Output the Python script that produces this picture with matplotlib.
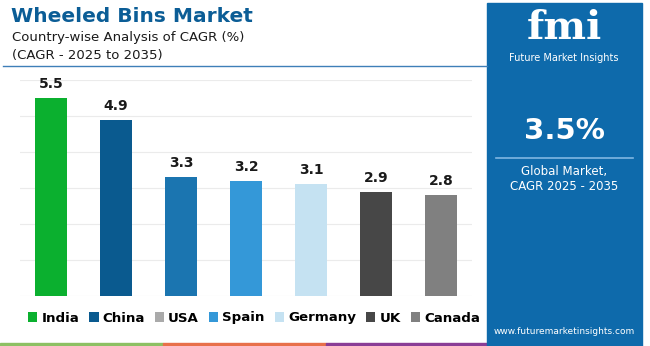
import matplotlib
matplotlib.use("Agg")
import matplotlib.pyplot as plt
from matplotlib.patches import Rectangle, Patch

countries = ["India", "China", "USA", "Spain", "Germany", "UK", "Canada"]
cagr = [5.5, 4.9, 3.3, 3.2, 3.1, 2.9, 2.8]
bar_colors = ["#0bb02f", "#0a5a8f", "#1b75b0", "#3498d8", "#c5e2f2", "#474747", "#808080"]
legend_colors = ["#0bb02f", "#0a5a8f", "#aaaaaa", "#3498d8", "#c5e2f2", "#474747", "#808080"]
global_cagr = "3.5%"

W, H = 650, 346
fig = plt.figure(figsize=(W / 100, H / 100), dpi=100)
fig.patch.set_facecolor("white")

def px(x, y):
    return x / W, 1 - y / H

# chart area
ax = fig.add_axes([20 / W, 50 / H, 452 / W, 216 / H])
x = list(range(len(countries)))
bars = ax.bar(x, cagr, width=0.5, color=bar_colors, zorder=3)
ax.set_xlim(-0.48, 6.48)
ax.set_ylim(0, 6)
ax.set_yticks(range(0, 7))
ax.grid(axis="y", color="#ebebeb", linewidth=0.8, zorder=0)
ax.tick_params(left=False, bottom=False, labelleft=False, labelbottom=False)
for s in ax.spines.values():
    s.set_visible(False)
for b, v in zip(bars, cagr):
    ax.annotate(f"{v}", (b.get_x() + b.get_width() / 2, v), xytext=(0, 5),
                textcoords="offset points", ha="center", va="bottom",
                fontsize=10, fontweight="bold", color="#1a1a1a", annotation_clip=False)

# titles
fig.text(*px(11, 17), "Wheeled Bins Market", fontsize=14.5, fontweight="heavy",
         color="#0b5d96", va="center", ha="left")
fig.text(*px(12, 37), "Country-wise Analysis of CAGR (%)", fontsize=9.5,
         color="#1a1a1a", va="center", ha="left")
fig.text(*px(12, 56), "(CAGR - 2025 to 2035)", fontsize=9.5,
         color="#1a1a1a", va="center", ha="left")
fig.add_artist(plt.Line2D([3 / W, 487 / W], [1 - 66 / H] * 2, color="#3f7fb8", linewidth=1))

# legend
handles = [Patch(facecolor=c, label=n) for c, n in zip(legend_colors, countries)]
leg = fig.legend(handles=handles, loc="center", bbox_to_anchor=px(254, 318), ncol=7,
                 frameon=False, handlelength=0.7, handleheight=0.7, handletextpad=0.3,
                 columnspacing=0.75, prop={"weight": "bold", "size": 9.6})

# bottom stripe
for x0, c in zip([0, 163, 326], ["#8dc063", "#e8704a", "#8a3d96"]):
    fig.add_artist(Rectangle((x0 / W, 0), 163 / W, 3 / H, color=c, transform=fig.transFigure))

# side panel
fig.add_artist(Rectangle((487 / W, 0), 155 / W, 343 / H, color="#0e6aab",
                         transform=fig.transFigure))
cx = 564
fig.text(*px(cx, 28), "fmi", fontsize=29, fontweight="bold", family="DejaVu Serif",
         color="white", ha="center", va="center")
fig.text(*px(cx, 58), "Future Market Insights", fontsize=7, color="white",
         ha="center", va="center")
fig.text(*px(cx, 131), global_cagr, fontsize=21, fontweight="bold", color="white",
         ha="center", va="center")
fig.add_artist(plt.Line2D([496 / W, 633 / W], [1 - 158 / H] * 2, color="#7fb6e2", linewidth=1.2))
fig.text(*px(cx, 172), "Global Market,", fontsize=8.5, color="white", ha="center", va="center")
fig.text(*px(cx, 186), "CAGR 2025 - 2035", fontsize=8.5, color="white", ha="center", va="center")
fig.text(*px(cx, 331), "www.futuremarketinsights.com", fontsize=6.5, color="white",
         ha="center", va="center")

fig.savefig("out.png", dpi=100)
